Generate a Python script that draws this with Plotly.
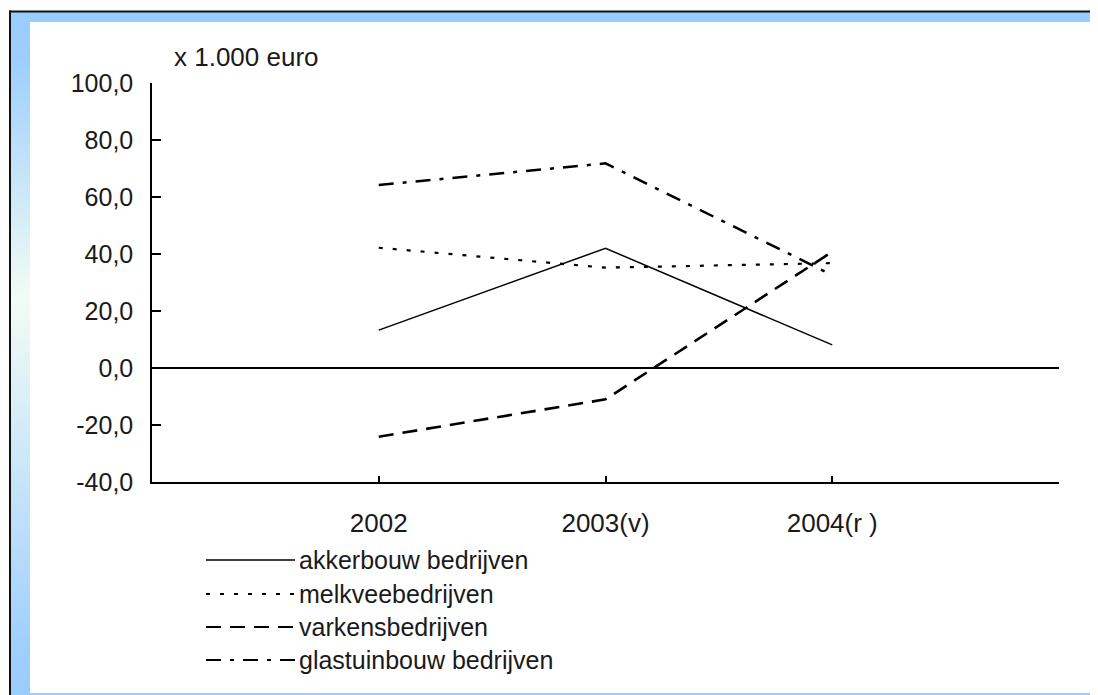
import base64
import plotly.graph_objects as go

# ---- data ----
years = ["2002", "2003(v)", "2004(r )"]
series_names = ["akkerbouw bedrijven", "melkveebedrijven", "varkensbedrijven", "glastuinbouw bedrijven"]
akkerbouw = [13.3, 42.0, 8.1]
melkvee = [42.2, 35.2, 36.8]
varkens = [-24.1, -11.0, 40.8]
glastuinbouw = [64.2, 71.8, 32.6]
y_ticks = [-40, -20, 0, 20, 40, 60, 80, 100]
unit_label = "x 1.000 euro"

values = [akkerbouw, melkvee, varkens, glastuinbouw]
dashes = ["solid", "4px,10px", "15px,9px", "15px,9px,4px,9px"]
widths = [1.5, 2.2, 2.6, 2.5]

# ---- layout geometry (reference pixels; page body has an 8px margin) ----
OFF = 8
W, H = 1098, 695
PLOT_L, PLOT_R, PLOT_T, PLOT_B = 152, 1059, 83, 482
PW, PH = PLOT_R - PLOT_L, PLOT_B - PLOT_T


def px(x):
    return (x - PLOT_L) / PW


def py(y):
    return (PLOT_B - y) / PH


TXT = "#1a1a1a"
FONT = "Liberation Sans, Arial, sans-serif"

x_idx = list(range(len(years)))
y_ticktext = [f"{v:.1f}".replace(".", ",") for v in y_ticks]

fig = go.Figure()
for name, vals, d, w in zip(series_names, values, dashes, widths):
    fig.add_trace(go.Scatter(
        x=x_idx, y=vals, mode="lines", name=name,
        line=dict(color="black", width=w, dash=d),
        showlegend=False,
    ))

# background frame as svg image (reference coordinates)
svg = f'''<svg xmlns="http://www.w3.org/2000/svg" width="{W}" height="{H}" viewBox="0 0 {W} {H}" preserveAspectRatio="none">
<defs><linearGradient id="g" x1="0" y1="0" x2="0" y2="1">
<stop offset="0" stop-color="#99ccff"/><stop offset="0.07" stop-color="#9dcefd"/>
<stop offset="0.42" stop-color="#f2fcf4"/><stop offset="0.93" stop-color="#a0cffd"/>
<stop offset="1" stop-color="#99ccff"/></linearGradient></defs>
<rect width="{W}" height="{H}" fill="#fdfdfd"/>
<rect x="10" y="11" width="{W-10}" height="{H-11}" fill="url(#g)"/>
<rect x="9" y="10.5" width="{W-9}" height="2" fill="#111"/>
<rect x="9" y="10.5" width="2" height="{H-10.5}" fill="#111"/>
<rect x="30" y="22" width="1063" height="671" fill="#ffffff"/>
</svg>'''
src = "data:image/svg+xml;base64," + base64.b64encode(svg.encode()).decode()

# custom legend
legend_rows_y = [560, 594, 627, 660]
shapes = []
annotations = []
for name, d, w, ry in zip(series_names, dashes, widths, legend_rows_y):
    shapes.append(dict(type="line", xref="paper", yref="paper",
                       x0=px(206), x1=px(295), y0=py(ry), y1=py(ry),
                       line=dict(color="black", width=min(w, 2.2), dash=d)))
    annotations.append(dict(text=name, xref="paper", yref="paper",
                            x=px(297), y=py(ry), xanchor="left", yanchor="middle",
                            showarrow=False, font=dict(size=25, color=TXT, family=FONT)))

annotations.append(dict(text=unit_label, xref="paper", yref="paper",
                        x=px(172), y=py(57), xanchor="left", yanchor="middle",
                        showarrow=False, font=dict(size=26, color=TXT, family=FONT)))

fig.update_layout(
    width=W - OFF, height=H - OFF,
    margin=dict(l=PLOT_L - OFF, r=W - PLOT_R, t=PLOT_T - OFF, b=H - PLOT_B, pad=0),
    paper_bgcolor="white",
    plot_bgcolor="rgba(0,0,0,0)",
    font=dict(family=FONT, color=TXT),
    images=[dict(source=src, xref="paper", yref="paper",
                 x=px(0), y=py(0), sizex=W / PW, sizey=H / PH,
                 xanchor="left", yanchor="top", sizing="stretch", layer="below")],
    shapes=shapes,
    annotations=annotations,
    xaxis=dict(
        range=[-1, len(years)], tickmode="array",
        tickvals=list(range(len(years) + 1)), ticktext=years + [""],
        ticks="inside", ticklen=6, tickwidth=1.5, tickcolor="black",
        showline=True, linecolor="black", linewidth=1.5,
        showgrid=False, zeroline=False,
        tickfont=dict(size=26, color=TXT, family=FONT),
        ticklabelstandoff=17,
    ),
    yaxis=dict(
        range=[-40, 100], tickmode="array", tickvals=y_ticks, ticktext=y_ticktext,
        ticks="inside", ticklen=9, tickwidth=1.5, tickcolor="black",
        showline=True, linecolor="black", linewidth=1.5,
        showgrid=False, zeroline=True, zerolinecolor="black", zerolinewidth=1.5,
        tickfont=dict(size=25, color=TXT, family=FONT),
        ticklabelstandoff=12,
    ),
)

fig.write_html("out.html")
